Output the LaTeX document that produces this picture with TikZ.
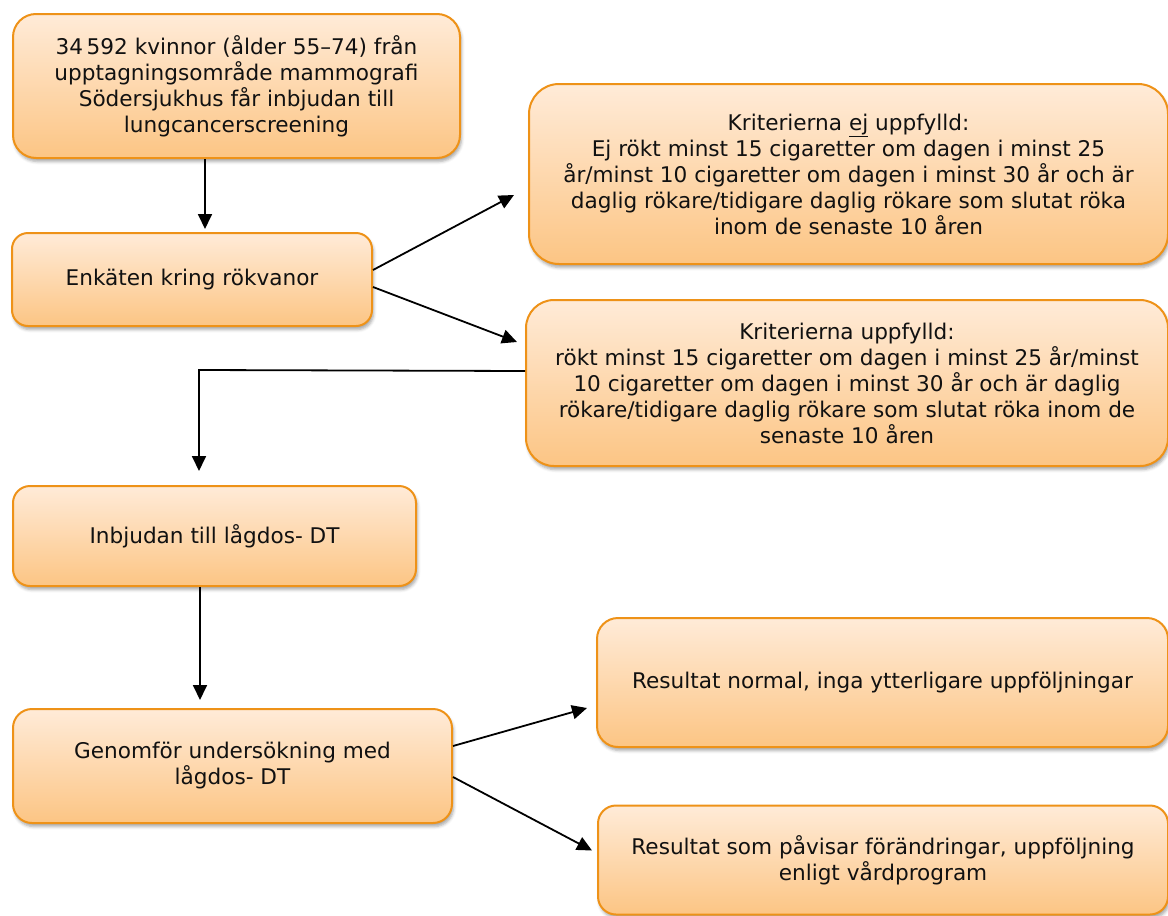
\documentclass[tikz,border=0pt]{standalone}
\usepackage{fontspec}
\setmainfont{DejaVu Sans}
\usetikzlibrary{arrows.meta,calc,shadows.blur}
\definecolor{boxtop}{HTML}{FFEBD8}
\definecolor{boxbot}{HTML}{FCC584}
\definecolor{boxline}{HTML}{EE9218}
\definecolor{txt}{HTML}{111111}
\tikzset{
  flowbox/.style={draw=boxline, line width=2pt, top color=boxtop, bottom color=boxbot,
    align=center, inner sep=0pt, text=txt,
    font=\fontsize{21.6}{26}\selectfont,
    blur shadow={shadow xshift=1.5pt, shadow yshift=-3.5pt, shadow blur radius=3pt, shadow opacity=35}},
  arr/.style={line width=1.8pt, -{Triangle[length=15pt,width=14pt]}}
}
\begin{document}
\begin{tikzpicture}[x=1pt,y=-1pt]
\useasboundingbox (0,0) rectangle (1168,916);
\node[flowbox, minimum width=447pt, minimum height=144pt, rounded corners=23pt] (b1) at (236.5,86)
  {34\,592 kvinnor (ålder 55–74) från\\upptagningsområde mammografi\\Södersjukhus får inbjudan till\\lungcancerscreening};
\node[flowbox, minimum width=360pt, minimum height=93pt, rounded corners=16pt] (b2) at (192,279.5)
  {Enkäten kring rökvanor};
\node[flowbox, minimum width=639pt, minimum height=180pt, rounded corners=30pt] (b3) at (848.5,174)
  {Kriterierna \underline{ej} uppfylld:\\Ej rökt minst 15 cigaretter om dagen i minst 25\\år/minst 10 cigaretter om dagen i minst 30 år och är\\daglig rökare/tidigare daglig rökare som slutat röka\\inom de senaste 10 åren};
\node[flowbox, minimum width=642pt, minimum height=166pt, rounded corners=28pt] (b4) at (847,383)
  {Kriterierna uppfylld:\\rökt minst 15 cigaretter om dagen i minst 25 år/minst\\10 cigaretter om dagen i minst 30 år och är daglig\\rökare/tidigare daglig rökare som slutat röka inom de\\senaste 10 åren};
\node[flowbox, minimum width=403pt, minimum height=100pt, rounded corners=17pt] (b5) at (214.5,536)
  {Inbjudan till lågdos- DT};
\node[flowbox, minimum width=439pt, minimum height=114pt, rounded corners=19pt] (b6) at (232.5,766)
  {Genomför undersökning med\\lågdos- DT};
\node[flowbox, minimum width=571pt, minimum height=129pt, rounded corners=21pt] (b7) at (882.5,682.5)
  {Resultat normal, inga ytterligare uppföljningar};
\node[flowbox, minimum width=570pt, minimum height=109pt, rounded corners=18pt] (b8) at (883,860)
  {Resultat som påvisar förändringar, uppföljning\\enligt vårdprogram};
% connectors
\draw[arr] ($(b1.south)+(-31.5,0)$) -- ($(b2.north)+(13,-3)$);
\draw[arr] ($(b2.east)+(0,-9.5)$) -- ($(b3.west)+(-14,21)$);
\draw[arr] ($(b2.east)+(0,7.5)$) -- ($(b4.west)+(-8,-41)$);
\coordinate (bend) at ($(b5.north)+(-15.5,-115)$);
\draw[arr] ($(b4.west)+(0,-12)$) -- (bend) -- ($(b5.north)+(-15.5,-14)$);
\draw[arr] ($(b5.south)+(-14.5,0)$) -- ($(b6.north)+(-32.5,-8)$);
\draw[arr] ($(b6.east)+(0,-20)$) -- ($(b7.west)+(-9,25.5)$);
\draw[arr] ($(b6.east)+(0,11)$) -- ($(b8.west)+(-5,-9.5)$);
\end{tikzpicture}
\end{document}
